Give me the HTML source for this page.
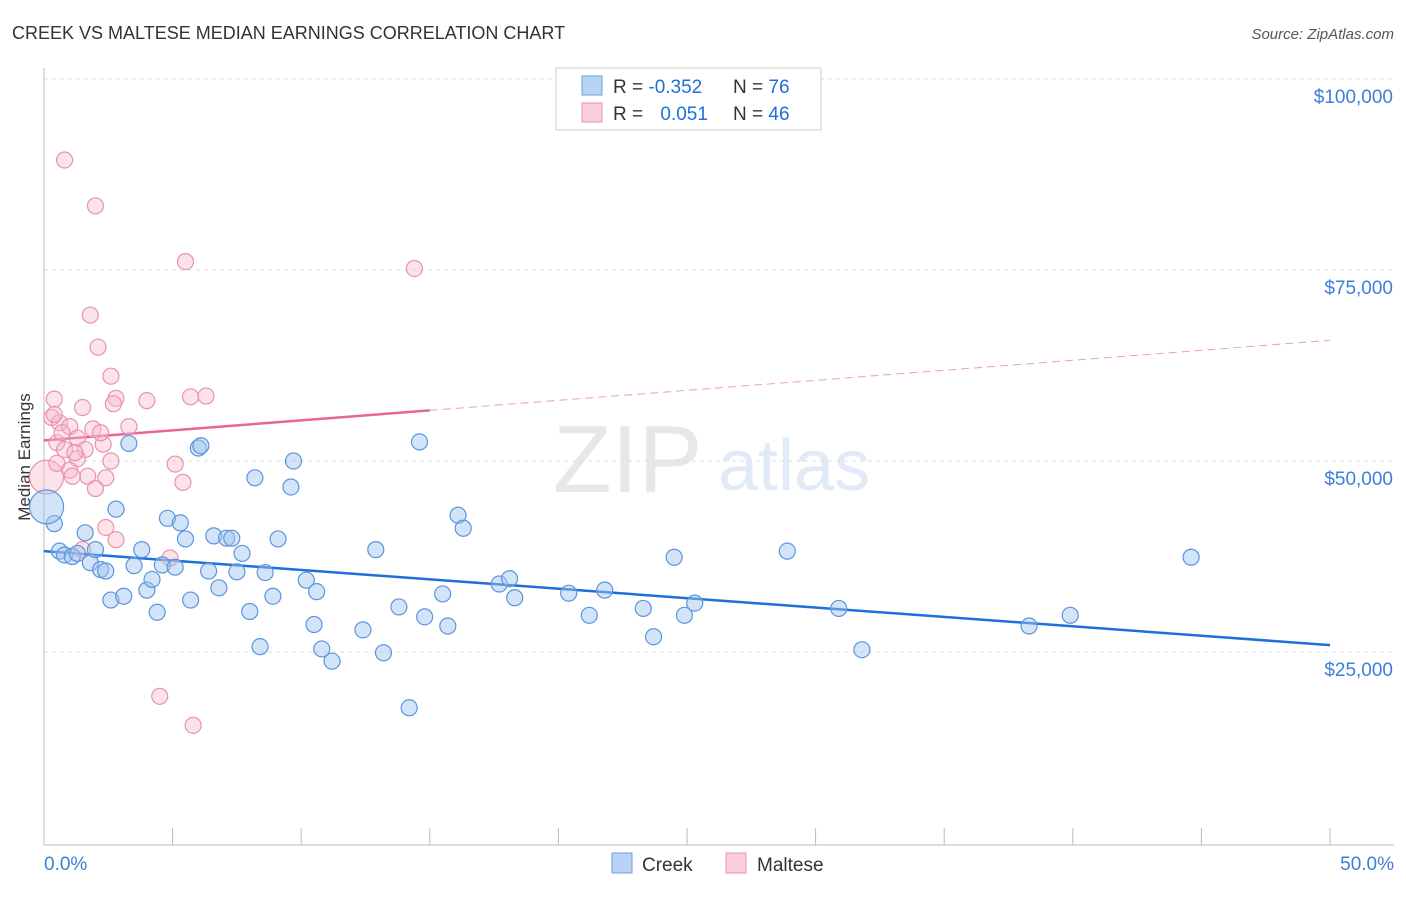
<!DOCTYPE html>
<html><head><meta charset="utf-8"><style>
body{margin:0;background:#fff;font-family:"Liberation Sans",sans-serif;}
svg text{font-family:"Liberation Sans",sans-serif;}
</style></head><body>
<svg id="c" width="1406" height="892" xmlns="http://www.w3.org/2000/svg">
<text x="12" y="39" font-size="18" fill="#333">CREEK VS MALTESE MEDIAN EARNINGS CORRELATION CHART</text>
<text x="1394" y="39" font-size="15" fill="#555" font-style="italic" text-anchor="end">Source: ZipAtlas.com</text>
<text x="30" y="457" font-size="17" fill="#333" transform="rotate(-90 30 457)" text-anchor="middle">Median Earnings</text>
<g opacity="0.35">
<text x="553" y="492" font-size="96" font-family="Liberation Serif,serif" fill="#bbb">ZIP</text>
<text x="718" y="490" font-size="72" fill="#a9c6ec">atlas</text>
</g>
<g id="grid"></g><g id="axes"></g><g id="lines"></g><g id="pts"></g>
<g>
<rect x="556" y="68" width="265" height="62" fill="#fff" stroke="#ccc"/>
<rect x="582" y="76" width="20" height="19" fill="#b8d3f5" stroke="#6a9fe0"/>
<rect x="582" y="103" width="20" height="19" fill="#fbcdd9" stroke="#e893ad"/>
<text x="613" y="93" font-size="19" fill="#333">R = <tspan fill="#1f6fd8">-0.352</tspan></text>
<text x="733" y="93" font-size="19" fill="#333">N = <tspan fill="#1f6fd8">76</tspan></text>
<text x="613" y="120" font-size="19" fill="#333">R = <tspan fill="#1f6fd8" dx="12">0.051</tspan></text>
<text x="733" y="120" font-size="19" fill="#333">N = <tspan fill="#1f6fd8">46</tspan></text>
</g>
<g>
<rect x="612" y="853" width="20" height="20" fill="#b8d3f5" stroke="#6a9fe0"/>
<text x="642" y="871" font-size="19" fill="#333">Creek</text>
<rect x="726" y="853" width="20" height="20" fill="#fbcdd9" stroke="#e893ad"/>
<text x="757" y="871" font-size="19" fill="#333">Maltese</text>
</g>
</svg>
<script>
const yTicks=[25000,50000,75000,100000];
const yTickLabels=["$25,000","$50,000","$75,000","$100,000"];
const xTicks=[0,5,10,15,20,25,30,35,40,45,50];
const creekX=[0.4,0.6,0.8,1.1,1.3,1.6,1.8,2.0,2.2,2.4,2.6,2.8,3.1,3.3,3.5,3.8,4.0,4.2,4.4,4.6,4.8,5.1,5.3,5.5,5.7,6.0,6.1,6.4,6.6,6.8,7.1,7.3,7.5,7.7,8.0,8.2,8.4,8.6,8.9,9.1,9.6,9.7,10.2,10.5,10.6,10.8,11.2,12.4,12.9,13.2,13.8,14.2,14.6,14.8,15.5,15.7,16.1,16.3,17.7,18.1,18.3,20.4,21.2,21.8,23.3,23.7,24.5,24.9,25.3,28.9,30.9,31.8,38.3,39.9,44.6,0.1];
const creekY=[41800,38200,37700,37500,37900,40600,36700,38400,35800,35600,31800,43700,32300,52300,36300,38400,33100,34500,30200,36400,42500,36100,41900,39800,31800,51700,52000,35600,40200,33400,39900,39900,35500,37900,30300,47800,25700,35400,32300,39800,46600,50000,34400,28600,32900,25400,23800,27900,38400,24900,30900,17700,52500,29600,32600,28400,42900,41200,33900,34600,32100,32700,29800,33100,30700,27000,37400,29800,31400,38200,30700,25300,28400,29800,37400,44000];
const maltX=[0.1,0.8,2.0,5.5,14.4,1.8,2.1,2.6,0.4,2.8,4.0,5.7,6.3,1.5,2.7,0.3,0.6,1.0,1.9,3.3,0.5,1.3,2.3,0.8,1.6,2.6,1.3,5.1,0.5,1.0,1.7,1.1,2.4,5.4,2.0,2.4,2.8,1.5,4.9,4.5,5.8,0.4,0.7,1.2,2.2];
const maltY=[47900,89400,83400,76100,75200,69100,64900,61100,58100,58200,57900,58400,58500,57000,57500,55700,55000,54500,54200,54500,52400,53000,52200,51500,51500,50000,50300,49600,49700,48800,48000,48000,47800,47200,46400,41300,39700,38400,37300,19200,15400,56100,53700,51100,53700];
const creekR=[28000,38200,-0.0], maltR=[];
const creekLine=[38200,25900]; // values at 0% and 50%
const maltLine=[52700,65800];  // values at 0% and 50%
const maltSolidEnd=15;
const X=v=>44+v/50*1286, Y=v=>843-v/25000*191;
const NS="http://www.w3.org/2000/svg";
function mk(t,a,p){const e=document.createElementNS(NS,t);for(const k in a)e.setAttribute(k,a[k]);p.appendChild(e);return e;}
const grid=document.getElementById('grid'),axes=document.getElementById('axes'),lines=document.getElementById('lines'),pts=document.getElementById('pts');
yTicks.forEach((v,i)=>{
 const l=mk('line',{x1:44,x2:1394,y1:Y(v),y2:Y(v),stroke:'#ddd','stroke-dasharray':'4,4'},grid);
 
 
 const t=mk('text',{x:1393,y:Y(v)+24,'font-size':19,fill:'#3d7fd8','text-anchor':'end'},axes);t.textContent=yTickLabels[i];
 
 
});
const la=mk('line',{x1:44,x2:44,y1:68,y2:845,stroke:'#bbb'},axes);


const lb=mk('line',{x1:44,x2:1394,y1:845,y2:845,stroke:'#bbb'},axes);


xTicks.forEach(v=>{const t=mk('line',{x1:X(v),x2:X(v),y1:828,y2:845,stroke:'#bbb'},axes);
 
 });
[[0,'0.0%','start',44],[50,'50.0%','end',1394]].forEach(d=>{const t=mk('text',{x:d[3],y:870,'font-size':19,fill:'#3d7fd8','text-anchor':d[2]},axes);t.textContent=d[1];
 
 });
function addPts(xs,ys,fill,stroke,name){xs.forEach((x,i)=>{const big=i==xs.length-1&&name=='creek-point'||i==0&&name=='maltese-point';
 const c=mk('circle',{cx:X(x),cy:Y(ys[i]),r:big?17:8,fill:fill,stroke:stroke,'stroke-width':1.2},pts);
 
 });}
addPts(maltX,maltY,'rgba(248,185,202,0.4)','#e893ad','maltese-point');
addPts(creekX,creekY,'rgba(160,195,240,0.45)','#5b95dd','creek-point');
const bl=mk('line',{x1:X(0),y1:Y(creekLine[0]),x2:X(50),y2:Y(creekLine[1]),stroke:'#1f6fd8','stroke-width':2.5},lines);


const pm=v=>maltLine[0]+(maltLine[1]-maltLine[0])*v/50;
const pl=mk('line',{x1:X(0),y1:Y(pm(0)),x2:X(maltSolidEnd),y2:Y(pm(maltSolidEnd)),stroke:'#e8659a','stroke-width':2.5},lines);


const pd=mk('line',{x1:X(maltSolidEnd),y1:Y(pm(maltSolidEnd)),x2:X(50),y2:Y(pm(50)),stroke:'#e8a0b8','stroke-width':1,'stroke-dasharray':'8,5'},lines);


</script>
</body></html>
